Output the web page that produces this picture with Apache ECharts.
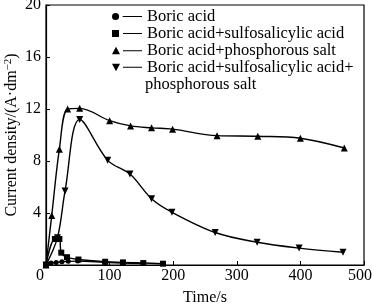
<!DOCTYPE html>
<html><head><meta charset="utf-8">
<script src="https://cdn.jsdelivr.net/npm/echarts@6/dist/echarts.min.js"></script>
<style>html,body{margin:0;padding:0;background:#fff}#c{width:372px;height:305px}</style>
</head><body><div id="c"></div>
<script>
const seriesNames = ['Boric acid','Boric acid+sulfosalicylic acid','Boric acid+phosphorous salt','Boric acid+sulfosalicylic acid+'];
const nameTail = 'phosphorous salt';
const boric = [[0,0],[8,0.15],[16,0.2],[25,0.25],[35,0.28],[50,0.3],[93,0.2],[121,0.15],[153,0.12]];
const boricSulfo = [[0,0],[14,2.0],[21,2.0],[24,0.95],[33,0.6],[51,0.42],[93,0.25],[121,0.2],[153,0.15],[184,0.1]];
const boricPhos = [[0,0],[9,3.8],[21,8.9],[34,12.0],[53,12.05],[100,11.1],[133,10.7],[166,10.55],[199,10.45],[269,9.95],[333,9.9],[400,9.75],[469,9.0]];
const boricSulfoPhos = [[0,0],[18,2.1],[30,5.7],[53,11.2],[97,8.05],[132,7.0],[166,5.1],[198,4.06],[266,2.5],[332,1.75],[398,1.3],[467,0.98]];
const xTicks = [0,100,200,300,400,500];
const yTicks = [0,4,8,12,16,20];

const F = 'Liberation Serif';
const icons = [
  'path://M0.5,4A3.5,3.5 0 1,1 7.5,4A3.5,3.5 0 1,1 0.5,4Z M11,3.4L30,3.4L30,4.6L11,4.6Z',
  'path://M0,0.5L7,0.5L7,7.5L0,7.5Z M11,3.4L30,3.4L30,4.6L11,4.6Z',
  'path://M4,0L8,7.5L0,7.5Z M11,3.4L30,3.4L30,4.6L11,4.6Z',
  'path://M0,0.5L8,0.5L4,8Z M11,3.4L30,3.4L30,4.6L11,4.6Z'
];
const symbols = ['circle','rect','triangle','path://M0,0L10,0L5,9Z'];
const sizes = [5,6,7,7];
const datas = [boric, boricSulfo, boricPhos, boricSulfoPhos];

const chart = echarts.init(document.getElementById('c'));
chart.setOption({
  animation:false,
  backgroundColor:'#fff',
  grid:{left:46,right:8,top:5,bottom:40,show:true,borderColor:'#000',borderWidth:1.2,containLabel:false,outerBoundsMode:'none'},
  legend:{
    orient:'vertical', left:112, top:8, padding:0, itemGap:0, itemWidth:30, itemHeight:8, textGap:3,
    textStyle:{fontFamily:F,fontSize:16.5,color:'#000',lineHeight:17},
    data:seriesNames.map((n,i)=>({name:n,icon:icons[i],itemStyle:{color:'#000'}})),
    selectedMode:false
  },
  graphic:[{type:'text',left:145,top:76,style:{text:nameTail,font:'16.5px "Liberation Serif"',fill:'#000'}}],
  xAxis:{type:'value',min:xTicks[0],max:xTicks[xTicks.length-1],interval:100,
    name:'Time/s',nameLocation:'middle',nameGap:25,nameMoveOverlap:false,
    nameTextStyle:{fontFamily:F,fontSize:16,color:'#000'},
    axisLine:{show:true,lineStyle:{color:'#000',width:1.2}},
    axisTick:{show:true,inside:true,length:4,lineStyle:{color:'#000'}},
    axisLabel:{fontFamily:F,fontSize:16,color:'#000',margin:3,
      formatter:v=>v===0?'0   ':(v===500?'500  ':String(v))},
    splitLine:{show:false}},
  yAxis:{type:'value',min:yTicks[0],max:yTicks[yTicks.length-1],interval:4,
    name:'{a|Current density/(A·dm}{s|−2}{a|)}',nameLocation:'middle',nameGap:25,nameRotate:90,nameMoveOverlap:false,
    nameTextStyle:{rich:{a:{fontFamily:F,fontSize:16,color:'#000'},s:{fontFamily:F,fontSize:11,color:'#000',verticalAlign:'top',padding:[0,0,7,0]}}},
    axisLine:{show:true,lineStyle:{color:'#000',width:1.2}},
    axisTick:{show:true,inside:true,length:4,lineStyle:{color:'#000'}},
    axisLabel:{fontFamily:F,fontSize:16,color:'#000',margin:5,showMinLabel:false},
    splitLine:{show:false}},
  series:datas.map((d,i)=>({
    name:seriesNames[i],type:'line',data:d,smooth:0.35,
    symbol:symbols[i],symbolSize:sizes[i],showSymbol:true,
    lineStyle:{color:'#000',width:1.4},itemStyle:{color:'#000'}
  }))
});
</script></body></html>
